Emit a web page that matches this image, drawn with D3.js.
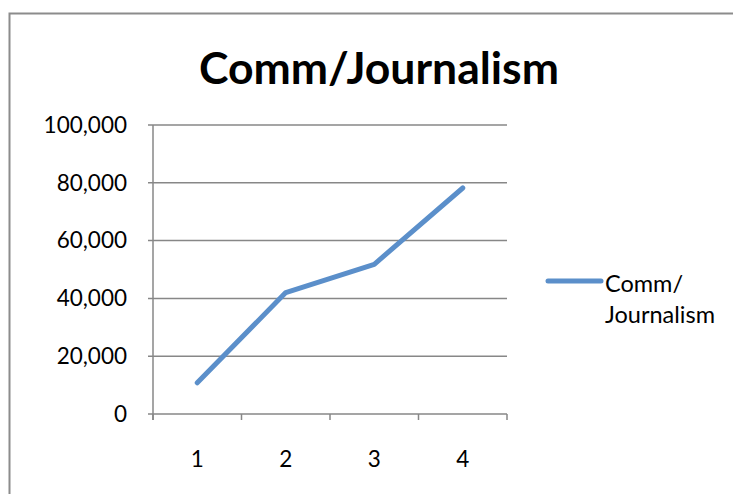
<!DOCTYPE html>
<html>
<head>
<meta charset="utf-8">
<script src="https://cdn.jsdelivr.net/npm/d3@7"></script>
<style>
  html, body { margin: 0; padding: 0; background: #fff; }
  svg { display: block; }
  text { font-family: Lato, "Open Sans", sans-serif; fill: #000; }
</style>
</head>
<body>
<svg id="chart" width="733" height="494"></svg>
<script>
const title = "Comm/Journalism";
const categories = ["1", "2", "3", "4"];
const values = [10800, 42000, 51800, 78200];
const yTicks = [0, 20000, 40000, 60000, 80000, 100000];
const legendLines = ["Comm/", "Journalism"];

const svg = d3.select("#chart");
const m = { left: 153, right: 507, top: 125, bottom: 414 };
const lineColor = "#5b8fca";
const gridColor = "#878787";

// outer border
svg.append("rect")
  .attr("x", 9.5).attr("y", 13.5)
  .attr("width", 760).attr("height", 520)
  .attr("fill", "none").attr("stroke", "#8c8c8c").attr("stroke-width", 2);

const x = d3.scaleBand().domain(categories).range([m.left, m.right]).padding(0);
const y = d3.scaleLinear().domain([0, 100000]).range([m.bottom, m.top]);

// gridlines
svg.append("g").selectAll("line").data(yTicks).join("line")
  .attr("x1", m.left - 5).attr("x2", m.right)
  .attr("y1", d => y(d)).attr("y2", d => y(d))
  .attr("stroke", gridColor).attr("stroke-width", 1.5);

// y axis line
svg.append("line")
  .attr("x1", m.left).attr("x2", m.left)
  .attr("y1", m.top).attr("y2", m.bottom + 6)
  .attr("stroke", gridColor).attr("stroke-width", 1.5);

// x axis ticks
const xb = [m.left, ...categories.map(c => x(c) + x.bandwidth())];
svg.append("g").selectAll("line").data(xb).join("line")
  .attr("x1", d => d).attr("x2", d => d)
  .attr("y1", m.bottom).attr("y2", m.bottom + 6)
  .attr("stroke", gridColor).attr("stroke-width", 1.5);

// y tick labels
const fmt = d3.format(",");
svg.append("g").selectAll("text").data(yTicks).join("text")
  .attr("x", 127).attr("y", d => y(d))
  .attr("dy", "0.35em")
  .attr("text-anchor", "end")
  .style("font-size", "22.5px")
  .text(d => fmt(d));

// x tick labels
svg.append("g").selectAll("text").data(categories).join("text")
  .attr("x", d => x(d) + x.bandwidth() / 2).attr("y", 459)
  .attr("dy", "0.35em")
  .attr("text-anchor", "middle")
  .style("font-size", "22.5px")
  .text(d => d);

// line
const line = d3.line()
  .x((d, i) => x(categories[i]) + x.bandwidth() / 2)
  .y(d => y(d));
svg.append("path")
  .datum(values)
  .attr("d", line)
  .attr("fill", "none")
  .attr("stroke", lineColor)
  .attr("stroke-width", 5)
  .attr("stroke-linecap", "round")
  .attr("stroke-linejoin", "round");

// title
svg.append("text")
  .attr("x", 379).attr("y", 84)
  .attr("text-anchor", "middle")
  .style("font-size", "44.5px")
  .style("font-weight", "bold")
  .text(title);

// legend
svg.append("line")
  .attr("x1", 548).attr("x2", 601)
  .attr("y1", 281).attr("y2", 281)
  .attr("stroke", lineColor).attr("stroke-width", 5)
  .attr("stroke-linecap", "round");
svg.append("g").selectAll("text").data(legendLines).join("text")
  .attr("x", 605).attr("y", (d, i) => 292 + i * 31)
  .style("font-size", "23.5px")
  .text(d => d);
</script>
</body>
</html>
